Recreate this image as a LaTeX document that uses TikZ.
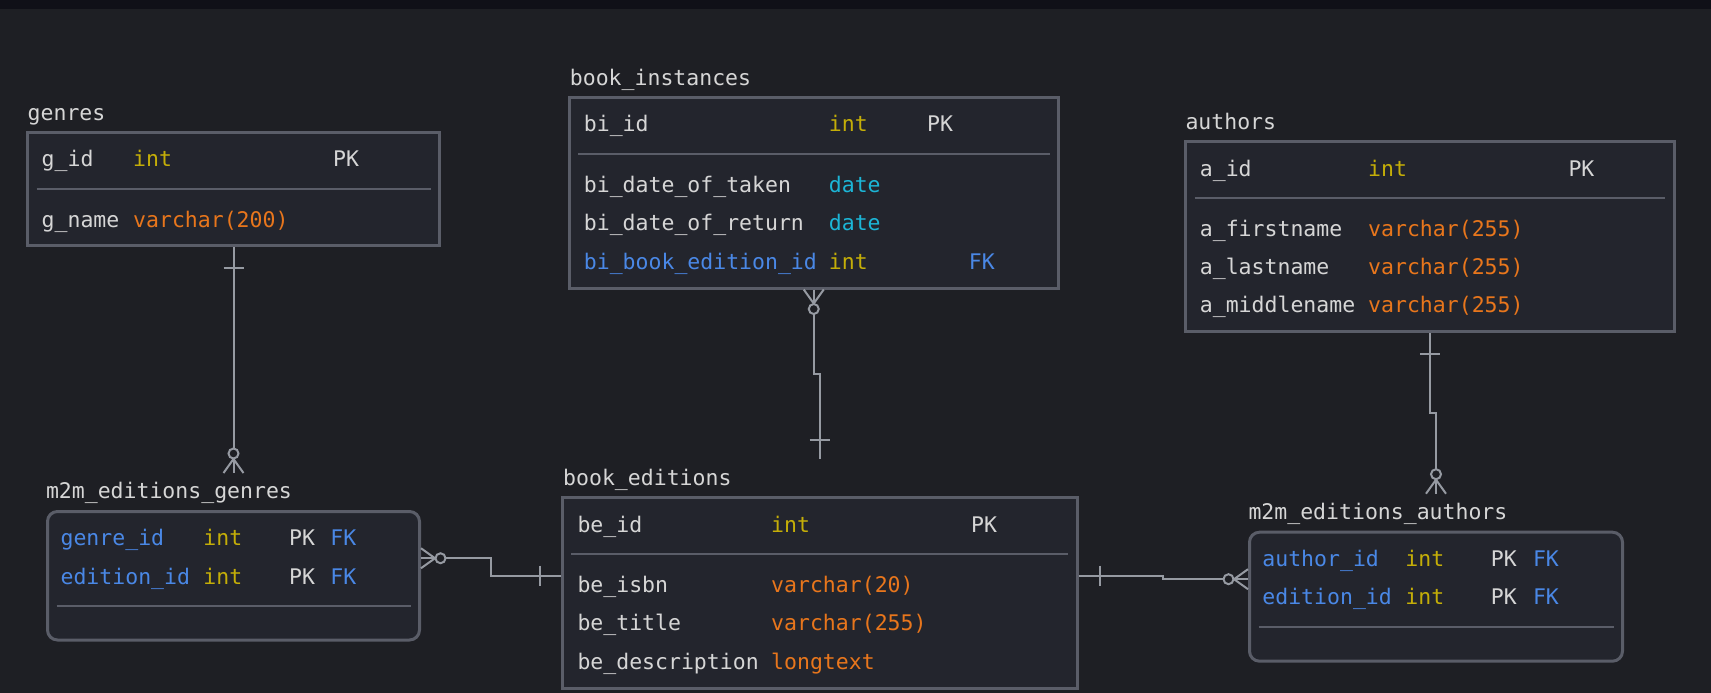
\documentclass[tikz,border=0pt]{standalone}
\usepackage{fontspec}
\setmonofont{DejaVu Sans Mono}
\usetikzlibrary{calc}
\definecolor{bg}{HTML}{1E1F24}
\definecolor{band}{HTML}{101018}
\definecolor{boxfill}{HTML}{23252D}
\definecolor{frame}{HTML}{5A5D68}
\definecolor{wire}{HTML}{969AA2}
\definecolor{txt}{HTML}{D6D6D6}
\definecolor{cint}{HTML}{C4AE08}
\definecolor{cvar}{HTML}{E8761C}
\definecolor{cdate}{HTML}{1CB5D6}
\definecolor{cfk}{HTML}{4A88E6}
\begin{document}
\begin{tikzpicture}[x=1pt,y=-1pt,
  every node/.style={inner sep=0pt,font=\ttfamily\fontsize{21.5}{26}\selectfont},
  cell/.style={anchor=base west,text=txt},
  tname/.style={anchor=base west,text=txt},
  tbl/.style={draw=frame,fill=boxfill,line width=3pt,outer sep=1.5pt,anchor=north west},
  mtbl/.style={tbl,rounded corners=10pt},
  rowline/.style={draw=frame,line width=2pt},
  rel/.style={draw=wire,line width=2pt}]
\useasboundingbox (0,0) rectangle (1711,693);
\fill[bg]   (0,0) rectangle (1711,693);
\fill[band] (0,0) rectangle (1711,9);

\node[tname]                                        (tg)   at (27.5,120.5)  {genres};
\node[tbl,minimum width=412pt,minimum height=113pt] (g)    at (26,131)      {};
\draw[rowline] (g.north west) ++(10.5,58) -- ++(394,0);
\node[cell]                                         (g1n)  at (41.5,166.7)  {g\_id};
\node[cell,text=cint]                               (g1t)  at (133,166.7)   {int};
\node[cell]                                         (g1k)  at (333,166.7)   {PK};
\node[cell]                                         (g2n)  at (41.5,227.7)  {g\_name};
\node[cell,text=cvar]                               (g2t)  at (133,227.7)   {varchar(200)};

\node[tname]                                            (tbi)  at (569.7,85)    {book\_instances};
\node[tbl,minimum width=489.5pt,minimum height=190.5pt] (bi)   at (567.5,96)    {};
\draw[rowline] (bi.north west) ++(10.5,58) -- ++(471.5,0);
\node[cell]                                             (bi1n) at (583.7,131.7) {bi\_id};
\node[cell,text=cint]                                   (bi1t) at (828.7,131.7) {int};
\node[cell]                                             (bi1k) at (927,131.7)   {PK};
\node[cell]                                             (bi2n) at (583.7,192.7) {bi\_date\_of\_taken};
\node[cell,text=cdate]                                  (bi2t) at (828.7,192.7) {date};
\node[cell]                                             (bi3n) at (583.7,230.7) {bi\_date\_of\_return};
\node[cell,text=cdate]                                  (bi3t) at (828.7,230.7) {date};
\node[cell,text=cfk]                                    (bi4n) at (583.7,269)   {bi\_book\_edition\_id};
\node[cell,text=cint]                                   (bi4t) at (828.7,269)   {int};
\node[cell,text=cfk]                                    (bi4k) at (968.7,269)   {FK};

\node[tname]                                          (ta)   at (1185.3,129)   {authors};
\node[tbl,minimum width=488.5pt,minimum height=190pt] (a)    at (1184,140)     {};
\draw[rowline] (a.north west) ++(10.5,57.7) -- ++(470.5,0);
\node[cell]                                           (a1n)  at (1199.7,176)   {a\_id};
\node[cell,text=cint]                                 (a1t)  at (1368,176)     {int};
\node[cell]                                           (a1k)  at (1568.3,176)   {PK};
\node[cell]                                           (a2n)  at (1199.7,236.7) {a\_firstname};
\node[cell,text=cvar]                                 (a2t)  at (1368,236.7)   {varchar(255)};
\node[cell]                                           (a3n)  at (1199.7,274)   {a\_lastname};
\node[cell,text=cvar]                                 (a3t)  at (1368,274)     {varchar(255)};
\node[cell]                                           (a4n)  at (1199.7,312.3) {a\_middlename};
\node[cell,text=cvar]                                 (a4t)  at (1368,312.3)   {varchar(255)};

\node[tname]                                           (tmg)  at (45.8,498.3)  {m2m\_editions\_genres};
\node[mtbl,minimum width=372pt,minimum height=128.5pt] (mg)   at (46,510)      {};
\draw[rowline] (mg.north west) ++(10.5,96) -- ++(354,0);
\node[cell,text=cfk]                                   (mg1n) at (60.4,545.7)  {genre\_id};
\node[cell,text=cint]                                  (mg1t) at (203.2,545.7) {int};
\node[cell]                                            (mg1p) at (288.9,545.7) {PK};
\node[cell,text=cfk]                                   (mg1f) at (330.2,545.7) {FK};
\node[cell,text=cfk]                                   (mg2n) at (60.4,584)    {edition\_id};
\node[cell,text=cint]                                  (mg2t) at (203.2,584)   {int};
\node[cell]                                            (mg2p) at (288.9,584)   {PK};
\node[cell,text=cfk]                                   (mg2f) at (330.2,584)   {FK};

\node[tname]                                        (tbe)  at (563,485)     {book\_editions};
\node[tbl,minimum width=515pt,minimum height=191pt] (be)   at (560.7,496)   {};
\draw[rowline] (be.north west) ++(10.5,58.3) -- ++(497,0);
\node[cell]                                         (be1n) at (577.3,532.3) {be\_id};
\node[cell,text=cint]                               (be1t) at (771,532.3)   {int};
\node[cell]                                         (be1k) at (970.9,532.3) {PK};
\node[cell]                                         (be2n) at (577.3,592.7) {be\_isbn};
\node[cell,text=cvar]                               (be2t) at (771,592.7)   {varchar(20)};
\node[cell]                                         (be3n) at (577.3,630.7) {be\_title};
\node[cell,text=cvar]                               (be3t) at (771,630.7)   {varchar(255)};
\node[cell]                                         (be4n) at (577.3,669)   {be\_description};
\node[cell,text=cvar]                               (be4t) at (771,669)     {longtext};

\node[tname]                                         (tma)  at (1248.3,519.3) {m2m\_editions\_authors};
\node[mtbl,minimum width=373pt,minimum height=129pt] (ma)   at (1248,530.7)   {};
\draw[rowline] (ma.north west) ++(10.5,96) -- ++(355,0);
\node[cell,text=cfk]                                 (ma1n) at (1262.2,566)   {author\_id};
\node[cell,text=cint]                                (ma1t) at (1405.2,566)   {int};
\node[cell]                                          (ma1p) at (1490.7,566)   {PK};
\node[cell,text=cfk]                                 (ma1f) at (1532.8,566)   {FK};
\node[cell,text=cfk]                                 (ma2n) at (1262.2,604.3) {edition\_id};
\node[cell,text=cint]                                (ma2t) at (1405.2,604.3) {int};
\node[cell]                                          (ma2p) at (1490.7,604.3) {PK};
\node[cell,text=cfk]                                 (ma2f) at (1532.8,604.3) {FK};

\coordinate (mgtop)   at ([yshift=37pt]mg.north);
\coordinate (betop)   at ([yshift=37pt]be.north);
\coordinate (matop)   at ([yshift=37pt]ma.north);
\coordinate (mgright) at ([yshift=17.5pt]mg.east);
\coordinate (beleft)  at ([yshift=17.5pt]be.west);
\coordinate (beright) at ([yshift=17.5pt]be.east);
\coordinate (maleft)  at ([yshift=17.5pt]ma.west);

\draw[rel] (g.south)  |- ($(g.south)!.5!(mgtop)$)  -| (mgtop);
\draw[rel] (bi.south) |- ($(bi.south)!.5!(betop)$) -| (betop);
\draw[rel] (a.south)  |- ($(a.south)!.5!(matop)$)  -| (matop);
\draw[rel] (mgright)  -| ($(mgright)!.5!(beleft)$) |- (beleft);
\draw[rel] (beright)  -| ($(beright)!.5!(maleft)$) |- (maleft);

\draw[rel] (g.south) ++(-10,21)  -- ++(20,0);
\draw[rel] (betop)   ++(-10,-19) -- ++(20,0);
\draw[rel] (a.south) ++(-10,21)  -- ++(20,0);
\draw[rel] (beleft)  ++(-21,-10) -- ++(0,20);
\draw[rel] (beright) ++(21,-10)  -- ++(0,20);

\draw[rel] (mgtop)    ++(-10,0) -- ++(10,-14) -- ++(10,14);
\draw[rel,fill=bg] (mgtop) ++(0,-19.5) circle[radius=5];
\draw[rel] (matop)    ++(-10,0) -- ++(10,-14) -- ++(10,14);
\draw[rel,fill=bg] (matop) ++(0,-19.5) circle[radius=5];
\draw[rel] (bi.south) ++(-10,0) -- ++(10,14) -- ++(10,-14);
\draw[rel,fill=bg] (bi.south) ++(0,19.5) circle[radius=5];
\draw[rel] (mgright)  ++(0,-10) -- ++(14,10) -- ++(-14,10);
\draw[rel,fill=bg] (mgright) ++(19.5,0) circle[radius=5];
\draw[rel] (maleft)   ++(0,-10) -- ++(-14,10) -- ++(14,10);
\draw[rel,fill=bg] (maleft) ++(-19.5,0) circle[radius=5];
\end{tikzpicture}
\end{document}
